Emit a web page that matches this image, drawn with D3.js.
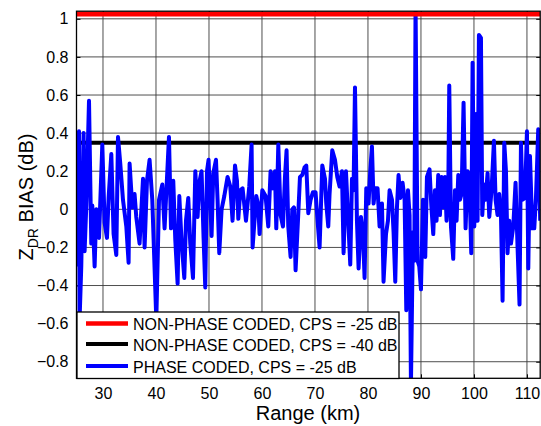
<!DOCTYPE html>
<html><head><meta charset="utf-8">
<script src="https://cdn.jsdelivr.net/npm/d3@7"></script>
<style>
html,body{margin:0;padding:0;background:#fff;}
svg{display:block;font-family:"Liberation Sans",Arial,sans-serif;}
</style></head>
<body><svg id="c" width="541" height="426"></svg>
<script>
// ---- data ----
const rangeKm = [25.0,25.47,25.58,25.9,26.34,26.53,26.85,27.36,27.79,27.98,28.42,28.74,29.25,29.87,30.3,30.75,31.06,31.57,32.0,32.51,32.83,33.26,33.77,34.4,34.83,35.02,35.53,35.96,36.28,36.9,37.55,37.85,38.3,38.79,39.3,40.06,40.57,41.19,41.62,
42.45,42.83,43.26,43.64,44.08,44.4,44.83,45.34,45.66,46.09,46.47,46.98,47.42,47.85,48.17,48.6,48.98,49.3,49.62,49.92,50.25,50.49,50.81,51.32,51.62,51.94,52.38,52.89,53.51,54.02,54.45,54.91,55.28,55.53,55.91,56.34,56.98,57.6,58.04,58.23,
58.92,59.3,59.55,60.06,60.68,61.19,61.62,62.08,62.45,62.7,63.08,63.51,63.96,64.34,64.64,64.96,65.4,65.72,66.04,66.34,66.79,67.17,67.6,68.04,68.36,68.74,69.17,69.62,70.11,70.49,70.87,71.38,71.89,72.13,72.51,72.75,73.26,73.77,74.21,74.64,
75.09,75.4,75.85,76.34,76.66,76.98,77.28,77.55,77.92,78.23,78.68,79.06,79.36,79.68,80.11,80.43,80.75,81.06,81.38,81.81,82.19,82.64,82.94,83.4,83.77,84.08,84.53,84.83,85.15,85.47,85.77,86.09,86.53,86.91,87.23,87.55,87.85,88.11,88.49,88.74,88.98,89.36,89.68,90.0,90.38,90.81,91.13,91.62,
91.95,92.32,92.64,92.94,93.26,93.58,93.89,94.21,94.53,94.83,95.15,95.34,95.66,96.09,96.42,96.72,97.04,97.36,97.66,98.04,98.42,98.79,99.11,99.49,99.74,100.06,100.38,100.68,100.94,101.32,101.57,101.89,102.19,102.57,102.89,103.32,103.77,104.08,104.45,104.77,105.09,105.4,105.72,106.04,106.34,106.66,106.98,107.42,107.85,108.23,108.6,108.87,109.17,109.62,110.0,110.25,110.57,111.0,111.38,111.7,112.13,112.5];
const phaseCodedBias = [-0.3,0.41,-0.58,-0.30,0.40,-0.22,0.02,0.57,-0.18,0.02,-0.30,0.0,-0.15,0.34,-0.07,-0.15,0.06,0.29,-0.13,-0.24,0.38,0.24,0.05,-0.09,-0.28,0.24,0.01,0.08,-0.04,-0.18,0.16,-0.20,0.15,0.26,0.05,-0.58,0.05,0.13,-0.10,
0.38,-0.10,0.15,-0.16,-0.39,0.07,-0.17,-0.36,-0.06,0.06,-0.18,-0.36,0.20,-0.04,0.14,0.20,-0.15,-0.41,0.20,0.26,0.03,-0.14,0.19,0.26,0.05,-0.23,0.0,0.07,0.17,0.12,-0.06,0.23,0.15,-0.05,0.10,0.11,-0.06,0.12,0.34,-0.20,
0.07,0.02,-0.13,0.10,0.07,-0.09,0.20,0.11,0.20,-0.10,0.34,-0.03,-0.09,0.17,0.31,-0.09,-0.25,0.0,0.01,-0.32,-0.06,0.17,0.18,0.22,0.23,-0.02,0.05,0.09,0.09,-0.06,-0.20,0.23,0.16,0.03,-0.09,0.08,0.31,0.26,0.17,0.12,
0.20,-0.23,0.20,-0.10,-0.29,0.16,0.10,0.64,-0.06,-0.31,-0.04,-0.13,-0.36,0.11,0.03,0.20,0.33,0.03,0.11,0.11,-0.09,0.03,-0.38,-0.13,-0.06,0.10,0.05,-0.12,-0.38,0.01,0.18,0.06,0.14,0.05,-0.53,0.10,-0.03,-0.92,-0.12,-0.27,1.08,-0.27,-0.30,-0.42,0.05,-0.25,0.17,0.21,
0.02,-0.13,0.10,-0.06,0.18,-0.03,0.17,0.01,0.17,-0.06,0.08,0.65,-0.09,-0.26,0.10,-0.06,0.18,0.05,0.08,0.56,-0.10,0.20,0.18,-0.23,0.77,-0.09,0.50,-0.06,0.915,0.90,-0.03,0.13,0.05,0.19,-0.04,0.10,0.36,0.05,-0.03,0.08,-0.02,-0.48,0.35,0.20,-0.23,-0.06,-0.18,-0.09,0.14,-0.20,-0.50,0.35,0.05,0.06,0.41,-0.31,0.28,-0.10,-0.10,0.06,0.42,-0.06];
const nonPhaseCps25 = 1.025;   // NON-PHASE CODED, CPS = -25 dB
const nonPhaseCps40 = 0.35;    // NON-PHASE CODED, CPS = -40 dB
const xTicks = [30,40,50,60,70,80,90,100,110];
const yTicks = [-0.8,-0.6,-0.4,-0.2,0,0.2,0.4,0.6,0.8,1];
const legendLabels = ["NON-PHASE CODED, CPS = -25 dB","NON-PHASE CODED, CPS = -40 dB","PHASE CODED, CPS = -25 dB"];
const seriesColors = ["#ff0000","#000000","#0000ff"];

// ---- layout ----
const L = 76.5, R = 540.2, T = 11.2, B = 378.3;
const svg = d3.select("#c");
const x = d3.scaleLinear().domain([25,112.5]).range([L,R]);
const y = d3.scaleLinear().domain([-0.887,1.04]).range([B,T]);

svg.append("defs").append("clipPath").attr("id","clip")
  .append("rect").attr("x",L).attr("y",T).attr("width",R-L).attr("height",B-T);

// grid
const g = svg.append("g");
g.selectAll(".gx").data(xTicks).join("line")
  .attr("x1",d=>x(d)).attr("x2",d=>x(d)).attr("y1",T).attr("y2",B)
  .attr("stroke","#3a3a3a").attr("stroke-width",0.9);
g.selectAll(".gy").data(yTicks).join("line")
  .attr("y1",d=>y(d)).attr("y2",d=>y(d)).attr("x1",L).attr("x2",R)
  .attr("stroke","#3a3a3a").attr("stroke-width",0.9);

// axes
const ax = d3.axisBottom(x).tickValues(xTicks).tickSize(-4).tickPadding(9).tickFormat(d3.format("d"));
const ay = d3.axisLeft(y).tickValues(yTicks).tickSize(-4).tickPadding(8).tickFormat(d=>d===0?"0":d3.format("")(d));
const gx = svg.append("g").attr("transform",`translate(0,${B})`).call(ax);
const gy = svg.append("g").attr("transform",`translate(${L},0)`).call(ay);
const gx2 = svg.append("g").attr("transform",`translate(0,${T})`).call(d3.axisTop(x).tickValues(xTicks).tickSize(-4).tickFormat(""));
const gy2 = svg.append("g").attr("transform",`translate(${R},0)`).call(d3.axisRight(y).tickValues(yTicks).tickSize(-4).tickFormat(""));
[gx,gy,gx2,gy2].forEach(a=>{
  a.select(".domain").remove();
  a.selectAll("line").attr("stroke","#000");
  a.selectAll("text").attr("font-size",16).attr("fill","#000").attr("font-family","Liberation Sans, Arial, sans-serif");
});

// data lines
const plot = svg.append("g").attr("clip-path","url(#clip)");
const line = d3.line().x(d=>x(d[0])).y(d=>y(d[1]));
plot.append("path").datum([[25,nonPhaseCps40],[112.5,nonPhaseCps40]]).attr("d",line)
  .attr("stroke",seriesColors[1]).attr("stroke-width",4).attr("fill","none");
plot.append("path").datum(rangeKm.map((r,i)=>[r,phaseCodedBias[i]])).attr("d",line)
  .attr("stroke",seriesColors[2]).attr("stroke-width",4).attr("fill","none").attr("stroke-linejoin","round");
plot.append("path").datum([[25,nonPhaseCps25],[112.5,nonPhaseCps25]]).attr("d",line)
  .attr("stroke",seriesColors[0]).attr("stroke-width",5).attr("fill","none");

// box
svg.append("rect").attr("x",L).attr("y",T).attr("width",R-L).attr("height",B-T)
  .attr("fill","none").attr("stroke","#000").attr("stroke-width",1.3);

// legend
const lg = svg.append("g");
lg.append("rect").attr("x",77).attr("y",312).attr("width",322).attr("height",66.5)
  .attr("fill","#fff").attr("stroke","#000").attr("stroke-width",1.3);
const rows = [323.5,344,366];
legendLabels.forEach((t,i)=>{
  lg.append("line").attr("x1",86).attr("x2",128).attr("y1",rows[i]).attr("y2",rows[i])
    .attr("stroke",seriesColors[i]).attr("stroke-width",i===0?4.5:4);
  lg.append("text").attr("x",133).attr("y",rows[i]+6.5).attr("font-size",16).attr("fill","#000").text(t);
});

// axis labels
svg.append("text").attr("x",308).attr("y",420).attr("text-anchor","middle").attr("font-size",20).text("Range (km)");
const yl = svg.append("text").attr("transform","translate(33,197) rotate(-90)").attr("text-anchor","middle").attr("font-size",20);
yl.append("tspan").text("Z");
yl.append("tspan").attr("font-size",14).attr("dy",5).text("DR");
yl.append("tspan").attr("dy",-5).text(" BIAS (dB)");
</script></body></html>
